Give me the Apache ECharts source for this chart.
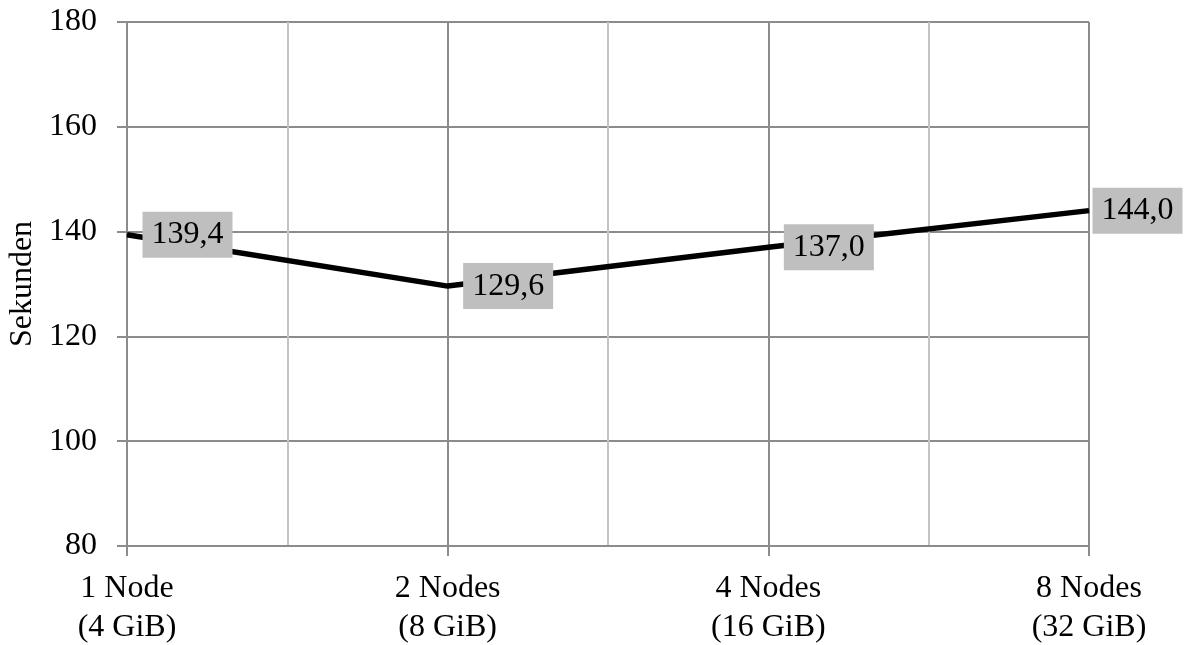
<!DOCTYPE html>
<html>
<head>
<meta charset="utf-8">
<script src="https://cdn.jsdelivr.net/npm/echarts@6/dist/echarts.min.js"></script>
<style>html,body{margin:0;padding:0;background:#fff}#c{width:1184px;height:645px}</style>
</head>
<body>
<div id="c"></div>
<script>
var categories = ['1 Node\n(4 GiB)', '2 Nodes\n(8 GiB)', '4 Nodes\n(16 GiB)', '8 Nodes\n(32 GiB)'];
var seconds = [139.4, 129.6, 137.0, 144.0];
var yTicks = [80, 100, 120, 140, 160, 180];
var yName = 'Sekunden';

var FONT = '"Liberation Serif", "DejaVu Serif", serif';
var chart = echarts.init(document.getElementById('c'), null, {renderer: 'canvas'});

var data = seconds.map(function (v, i) {
  var item = {value: [i, v]};
  if (i === seconds.length - 1) item.label = {distance: 3};
  return item;
});

chart.setOption({
  animation: false,
  backgroundColor: '#ffffff',
  grid: {left: 127, right: 95, top: 22, bottom: 99, containLabel: false, outerBoundsMode: 'none'},
  xAxis: {
    type: 'value',
    min: 0,
    max: categories.length - 1,
    interval: 1,
    axisLine: {show: true, lineStyle: {color: '#8c8c8c', width: 2}},
    axisTick: {show: true, length: 10, lineStyle: {color: '#8c8c8c', width: 2}},
    axisLabel: {
      margin: 23,
      fontFamily: FONT,
      fontSize: 32,
      lineHeight: 39,
      color: '#000',
      formatter: function (v) { return categories[Math.round(v)] || ''; }
    },
    splitLine: {show: true, lineStyle: {color: '#8c8c8c', width: 2}},
    minorTick: {show: false, splitNumber: 2},
    minorSplitLine: {show: true, lineStyle: {color: '#c4c4c4', width: 2}}
  },
  yAxis: {
    type: 'value',
    min: yTicks[0],
    max: yTicks[yTicks.length - 1],
    interval: yTicks[1] - yTicks[0],
    name: yName,
    nameLocation: 'middle',
    nameRotate: 90,
    nameGap: 82,
    nameTextStyle: {fontFamily: FONT, fontSize: 32, color: '#000'},
    axisLine: {show: true, lineStyle: {color: '#8c8c8c', width: 2}},
    axisTick: {show: true, length: 10, lineStyle: {color: '#8c8c8c', width: 2}},
    axisLabel: {margin: 30, fontFamily: FONT, fontSize: 32, color: '#000'},
    splitLine: {show: true, lineStyle: {color: '#8c8c8c', width: 2}}
  },
  series: [{
    type: 'line',
    data: data,
    symbol: 'circle',
    symbolSize: 1,
    itemStyle: {color: '#000'},
    lineStyle: {color: '#000', width: 5.5},
    label: {
      show: true,
      position: 'right',
      distance: 15,
      fontFamily: FONT,
      fontSize: 32,
      color: '#000',
      backgroundColor: '#bfbfbf',
      padding: [7, 9, 7, 9],
      formatter: function (p) { return p.value[1].toFixed(1).replace('.', ','); }
    }
  }]
});
</script>
</body>
</html>
